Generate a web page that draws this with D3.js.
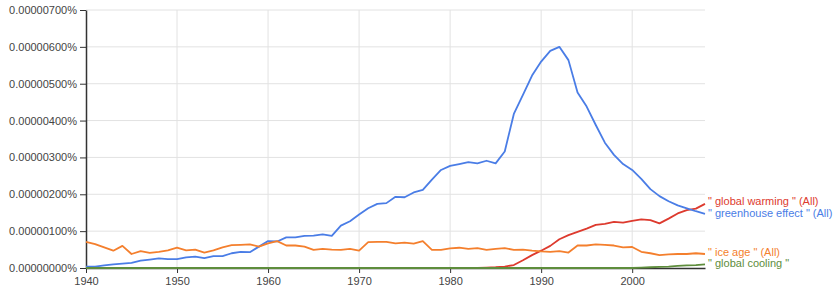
<!DOCTYPE html>
<html>
<head>
<meta charset="utf-8">
<script src="https://cdn.jsdelivr.net/npm/d3@7"></script>
<style>
  body { margin: 0; background: #fff; }
  svg { display: block; font-family: "Liberation Sans", Arial, sans-serif; }
</style>
</head>
<body>
<div id="chart"></div>
<script>
// values in units of 0.000001 %
const years = d3.range(1940, 2009);
const greenhouseEffect = [
  0.04, 0.04, 0.07, 0.10, 0.12, 0.14, 0.20, 0.23, 0.26, 0.24, 0.24,
  0.29, 0.31, 0.27, 0.32, 0.32, 0.40, 0.44, 0.43, 0.58, 0.73,
  0.72, 0.83, 0.83, 0.87, 0.88, 0.91, 0.87, 1.15, 1.27, 1.45,
  1.62, 1.74, 1.76, 1.93, 1.92, 2.05, 2.12, 2.40, 2.66, 2.77,
  2.82, 2.87, 2.84, 2.91, 2.84, 3.16, 4.18, 4.70, 5.22, 5.60,
  5.89, 6.00, 5.64, 4.76, 4.38, 3.88, 3.40, 3.07, 2.82, 2.66,
  2.42, 2.14, 1.95, 1.81, 1.70, 1.62, 1.54, 1.47
];
const globalWarming = [
  0, 0, 0, 0, 0, 0, 0, 0, 0, 0, 0,
  0, 0, 0, 0, 0, 0, 0, 0, 0, 0,
  0, 0, 0, 0, 0, 0, 0, 0, 0, 0,
  0, 0, 0, 0, 0, 0, 0, 0, 0, 0,
  0, 0, 0, 0.01, 0.02, 0.04, 0.08, 0.21, 0.35, 0.47,
  0.60, 0.78, 0.89, 0.98, 1.07, 1.17, 1.20, 1.25, 1.23, 1.28,
  1.32, 1.30, 1.21, 1.34, 1.48, 1.57, 1.61, 1.74
];
const iceAge = [
  0.71, 0.65, 0.56, 0.47, 0.60, 0.38, 0.46, 0.41, 0.44, 0.48, 0.55,
  0.48, 0.50, 0.42, 0.48, 0.56, 0.62, 0.63, 0.64, 0.58, 0.67,
  0.73, 0.61, 0.61, 0.58, 0.49, 0.52, 0.50, 0.49, 0.52, 0.47,
  0.70, 0.71, 0.71, 0.67, 0.69, 0.66, 0.73, 0.49, 0.49, 0.53,
  0.55, 0.52, 0.54, 0.49, 0.52, 0.54, 0.49, 0.50, 0.47, 0.45,
  0.44, 0.46, 0.42, 0.61, 0.61, 0.64, 0.63, 0.61, 0.56, 0.57,
  0.44, 0.40, 0.35, 0.37, 0.38, 0.38, 0.40, 0.38
];
const globalCooling = [
  0, 0, 0, 0, 0, 0, 0, 0, 0, 0, 0,
  0, 0, 0, 0, 0, 0, 0, 0, 0, 0,
  0, 0, 0, 0, 0, 0, 0, 0, 0, 0,
  0, 0, 0, 0, 0, 0, 0, 0, 0, 0,
  0, 0, 0, 0, 0, 0, 0, 0, 0, 0,
  0, 0, 0, 0, 0, 0, 0, 0, 0, 0,
  0.01, 0.02, 0.03, 0.04, 0.06, 0.07, 0.08, 0.10
];
const yTicks = [0, 1, 2, 3, 4, 5, 6, 7];
const yTickLabels = ["0.00000000%", "0.00000100%", "0.00000200%", "0.00000300%",
  "0.00000400%", "0.00000500%", "0.00000600%", "0.00000700%"];
const xTicks = [1940, 1950, 1960, 1970, 1980, 1990, 2000];

// drawn in this order, global cooling ends up on top along the zero line
const series = [
  { name: "\" global warming \" (All)", values: globalWarming, color: "#dd3a2e", labelY: 201 },
  { name: "\" greenhouse effect \" (All)", values: greenhouseEffect, color: "#4a7de6", labelY: 213 },
  { name: "\" ice age \" (All)", values: iceAge, color: "#f47f2d", labelY: 252 },
  { name: "\" global cooling \"", values: globalCooling, color: "#5e8d3c", labelY: 263 }
];

const width = 840, height = 295;
const margin = { left: 86, right: 135, top: 10, bottom: 27 };

const svg = d3.select("#chart").append("svg")
  .attr("width", width)
  .attr("height", height);

const x = d3.scaleLinear().domain([1940, 2008]).range([margin.left, width - margin.right]);
const y = d3.scaleLinear().domain([0, 7]).range([height - margin.bottom, margin.top]);

// grid
svg.append("g")
  .selectAll("line.h")
  .data(yTicks.slice(1))
  .join("line")
  .attr("x1", margin.left).attr("x2", x(2008))
  .attr("y1", d => y(d)).attr("y2", d => y(d))
  .attr("stroke", "#e2e2e2");

svg.append("g")
  .selectAll("line.v")
  .data(xTicks.slice(1))
  .join("line")
  .attr("x1", d => x(d)).attr("x2", d => x(d))
  .attr("y1", y(7)).attr("y2", y(0))
  .attr("stroke", "#e2e2e2");

// axes
const yAxis = svg.append("g")
  .attr("transform", `translate(${margin.left},0)`)
  .call(d3.axisLeft(y).tickValues(yTicks).tickFormat((d, i) => yTickLabels[i]).tickSize(6).tickSizeOuter(0));
yAxis.selectAll("text").attr("fill", "#444").attr("font-size", 11).attr("font-family", "Liberation Sans, Arial, sans-serif");
yAxis.selectAll("line").attr("stroke", "#333");
yAxis.select(".domain").attr("stroke", "#333").attr("stroke-width", 1.5);

const xAxis = svg.append("g")
  .attr("transform", `translate(0,${y(0)})`)
  .call(d3.axisBottom(x).tickValues(xTicks).tickFormat(d3.format("d")).tickSize(5).tickSizeOuter(0));
xAxis.selectAll("text").attr("fill", "#444").attr("font-size", 11).attr("font-family", "Liberation Sans, Arial, sans-serif").attr("dy", "0.85em");
xAxis.selectAll("line").attr("stroke", "#333");
xAxis.select(".domain").attr("stroke", "#333").attr("stroke-width", 1.5);

// lines
const line = d3.line()
  .x((d, i) => x(years[i]))
  .y(d => y(d));

svg.append("g")
  .selectAll("path")
  .data(series)
  .join("path")
  .attr("d", d => line(d.values))
  .attr("fill", "none")
  .attr("stroke", d => d.color)
  .attr("stroke-width", 1.8)
  .attr("stroke-linejoin", "round");

// labels at the end of each line
svg.append("g")
  .selectAll("text")
  .data(series)
  .join("text")
  .attr("x", x(2008) + 3)
  .attr("y", d => d.labelY)
  .attr("dy", "0.35em")
  .attr("font-size", 11)
  .attr("fill", d => d.color)
  .text(d => d.name);
</script>
</body>
</html>
